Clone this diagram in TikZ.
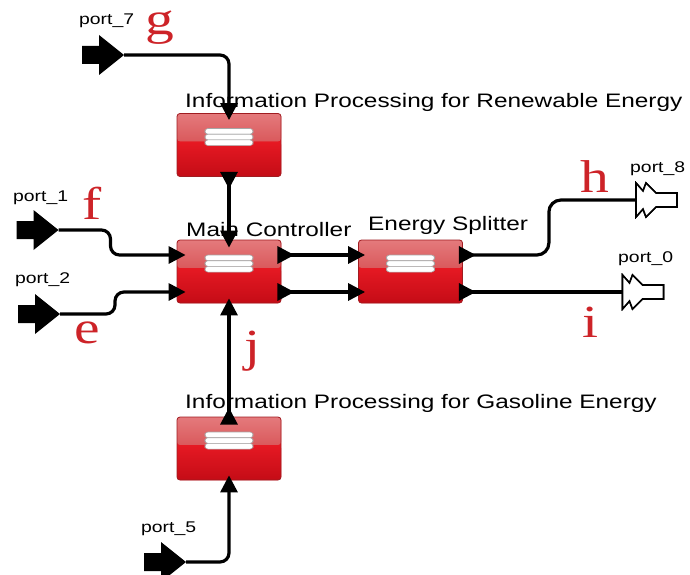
\documentclass[tikz,border=0pt]{standalone}
\usepackage{graphicx}
\usepackage{fontspec}
\setmainfont{Liberation Sans}
\newfontfamily\letterfont{Liberation Serif}
\usetikzlibrary{arrows.meta,calc}
\definecolor{BXlight}{RGB}{228,122,124}
\definecolor{BXmid}{RGB}{205,48,52}
\definecolor{BXred}{RGB}{230,25,35}
\definecolor{BXdark}{RGB}{196,12,22}
\definecolor{BXedge}{RGB}{160,28,33}
\definecolor{LTred}{RGB}{205,35,40}
\newcommand\wide[1]{\scalebox{1.25}[1]{#1}}
\tikzset{
  blk/.style={rectangle,rounded corners=3pt,draw=BXedge,line width=0.8pt,fill=BXred,
              minimum width=104pt,minimum height=63pt,inner sep=0pt,
              path picture={
                \shade[top color=BXlight,bottom color=BXmid]
                  (path picture bounding box.north west) rectangle ([yshift=-28pt]path picture bounding box.north east);
                \shade[top color=BXred,bottom color=BXdark]
                  ([yshift=-28pt]path picture bounding box.north west) rectangle (path picture bounding box.south east);
                \foreach \k in {0,1,2}
                  \filldraw[fill=white,draw=gray!70,line width=0.6pt]
                    ([xshift=-24pt,yshift={-15pt-\k*5.7pt}]path picture bounding box.north) rectangle ++(48pt,-5.7pt);
              }},
  inport/.style={minimum width=42pt,minimum height=40pt,inner sep=0pt,outer sep=0pt,
              path picture={
                \fill (path picture bounding box.west) ++(0pt,9pt) -- ++(17pt,0pt) -- ++(0pt,11pt)
                  -- (path picture bounding box.east) -- ++(-25pt,-20pt) -- ++(0pt,11pt) -- ++(-17pt,0pt) -- cycle;
              }},
  outport/.style={minimum width=44pt,minimum height=37pt,inner sep=0pt,outer sep=0pt,
              path picture={
                \filldraw[fill=white,draw=black,line width=1.6pt,line join=miter]
                  ([xshift=1pt]path picture bounding box.west) ++(0pt,17pt) -- ++(7pt,-8pt) -- ++(3pt,8pt)
                  -- ++(10pt,-10pt) -- ++(21pt,0pt) -- ++(0pt,-14pt) -- ++(-21pt,0pt) -- ++(-10pt,-10pt)
                  -- ++(-3pt,8pt) -- ++(-7pt,-8pt) -- cycle;
              }},
  lbl/.style={anchor=base west,inner sep=0pt,font=\fontsize{19.5}{22}\selectfont},
  portlbl/.style={anchor=base west,inner sep=0pt,font=\fontsize{15.5}{18}\selectfont},
  letter/.style={anchor=base,inner sep=0pt,text height=33pt,text=LTred,font=\letterfont\fontsize{46}{50}\selectfont},
  inwire/.style={line width=3.2pt,rounded corners=9pt,-{Triangle[length=17pt,width=17pt]}},
  wire/.style={line width=3.2pt,rounded corners=9pt,
              {Triangle[reversed,length=17pt,width=17pt]}-{Triangle[length=17pt,width=17pt]}},
  outwire/.style={line width=3.2pt,rounded corners=12pt,{Triangle[reversed,length=17pt,width=17pt]}-}
}
\begin{document}
\begin{tikzpicture}[x=1pt,y=-1pt]
  \useasboundingbox (0,0) rectangle (690,575);
  \node[blk] (ren) at (229,145) {};
  \node[blk] (main) at (229,271.5) {};
  \node[blk] (split) at (410.5,271.5) {};
  \node[blk] (gas) at (229,448.5) {};

  \node[lbl] (renlbl) at (185,107) {\wide{Information Processing for Renewable Energy}};
  \node[lbl] (mainlbl) at (186,236) {\wide{Main Controller}};
  \node[lbl] (splitlbl) at (368,230) {\wide{Energy Splitter}};
  \node[lbl] (gaslbl) at (185,408) {\wide{Information Processing for Gasoline Energy}};

  \node[inport] (p7) at (103,55) {};
  \node[inport] (p1) at (37.5,230) {};
  \node[inport] (p2) at (39,314) {};
  \node[inport] (p5) at (165,562) {};

  \node[portlbl] (p7lbl) at (79,25) {\wide{port\_7}};
  \node[portlbl] (p1lbl) at (13,201) {\wide{port\_1}};
  \node[portlbl] (p2lbl) at (15,283) {\wide{port\_2}};
  \node[portlbl] (p8lbl) at (630,172) {\wide{port\_8}};
  \node[portlbl] (p0lbl) at (618,262) {\wide{port\_0}};
  \node[portlbl] (p5lbl) at (141,532) {\wide{port\_5}};

  \node[letter] (lg) at (160,35) {\wide{g}};
  \node[letter] (lf) at (92,219) {\wide{f}};
  \node[letter] (le) at (87,343) {\wide{e}};
  \node[letter] (lh) at (595,192) {\wide{h}};
  \node[letter] (li) at (590,337) {\wide{i}};
  \node[letter] (lj) at (252,361) {\wide{j}};

  \draw[inwire] (p7.east) -| ([yshift=-7pt]ren.north);
  \draw[wire] ([yshift=5pt]ren.south) -- ([yshift=-8pt]main.north);
  \draw[inwire] (p1.east) -- ++(52,0) |- ([xshift=9pt,yshift=16.5pt]main.west);
  \draw[inwire] (p2.east) -- ++(55,0) |- ([xshift=9pt,yshift=-20.5pt]main.west);
  \draw[wire] ([xshift=-4pt,yshift=16.5pt]main.east) -- ([xshift=7pt,yshift=16.5pt]split.west);
  \draw[wire] ([xshift=-4pt,yshift=-20.5pt]main.east) -- ([xshift=7pt,yshift=-20.5pt]split.west);
  \draw[wire] ([yshift=-8pt]gas.north) -- ([yshift=5pt]main.south);
  \draw[inwire] (p5.east) -| ([yshift=5pt]gas.south);

  \node[outport] (p8) at (657,200) {};
  \node[outport] (p0) at (643.5,292) {};
  \draw[outwire] ([xshift=-4pt,yshift=16.5pt]split.east) -- ++(90,0) |- (p8.west);
  \draw[outwire] ([xshift=-4pt,yshift=-20.5pt]split.east) -- (p0.west);
  \node[outport] at (p8) {};
  \node[outport] at (p0) {};
\end{tikzpicture}
\end{document}
